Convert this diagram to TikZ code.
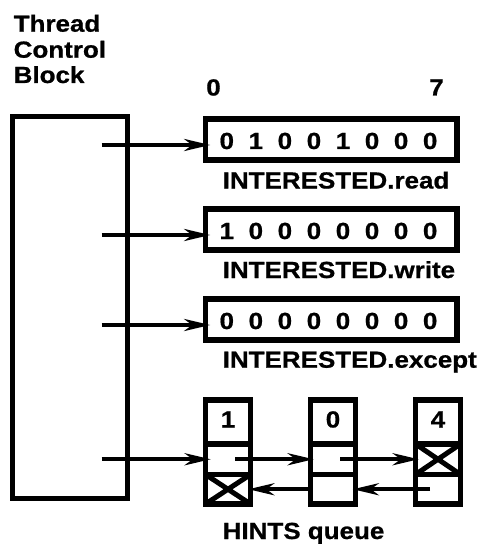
\documentclass[tikz,border=0pt]{standalone}
\usepackage{fontspec}
\newfontfamily\labfont{Liberation Sans}[FakeStretch=1.115, FakeBold=0.8]
\usetikzlibrary{arrows.meta,calc}
\tikzset{
  txt/.style={font=\labfont\bfseries\fontsize{23.3}{27}\selectfont, inner sep=0pt},
  tcbbox/.style={draw, line width=5pt, minimum width=115.5pt, minimum height=381.5pt, inner sep=0pt},
  bitbox/.style={draw, line width=5.5pt, minimum width=251.5pt, minimum height=41pt, inner sep=0pt},
  cell/.style={draw, line width=5.5pt, minimum width=45pt, inner sep=0pt},
  xcell/.style={cell, path picture={
      \draw[line width=5pt] (path picture bounding box.south west) -- (path picture bounding box.north east)
                            (path picture bounding box.north west) -- (path picture bounding box.south east);}},
  arr/.style={line width=4pt, -{Stealth[length=26pt,width=12pt,inset=8pt]}},
}
\begin{document}
\begin{tikzpicture}[x=1pt,y=-1pt]
\useasboundingbox (0,0) rectangle (481,548);

% Thread Control Block
\node[txt, anchor=base west] (l1) at (13.5,31.7) {Thread};
\node[txt, anchor=base west] (l2) at (13.5,57.7) {Control};
\node[txt, anchor=base west] (l3) at (13.5,83) {Block};
\node[tcbbox] (tcb) at (69.75,307.25) {};

% bit index header
\node[txt, anchor=base] (h0) at (213.5,95.5) {0};
\node[txt, anchor=base] (h7) at (436.5,95.5) {7};

% bit vectors
\node[bitbox] (br) at (331.25,139.5) {};
\node[bitbox] (bw) at (331.25,229.5) {};
\node[bitbox] (be) at (331.25,319.5) {};
\foreach \d [count=\i from 0] in {0,1,0,0,1,0,0,0}
  \node[txt, anchor=base] (rd\i) at (226.8+29.05*\i,149) {\d};
\foreach \d [count=\i from 0] in {1,0,0,0,0,0,0,0}
  \node[txt, anchor=base] (wd\i) at (226.8+29.05*\i,239) {\d};
\foreach \d [count=\i from 0] in {0,0,0,0,0,0,0,0}
  \node[txt, anchor=base] (ed\i) at (226.8+29.05*\i,329) {\d};
\node[txt, anchor=base west] (lr) at (222.5,188.5) {INTERESTED.read};
\node[txt, anchor=base west] (lw) at (222.5,278) {INTERESTED.write};
\node[txt, anchor=base west] (le) at (222.5,367.7) {INTERESTED.except};

% HINTS queue cells
\foreach \n/\x/\v in {1/228/1, 2/333/0, 3/438/4} {
  \node[cell, minimum height=44pt] (q\n a) at (\x,422) {};
  \node[txt, anchor=base] (v\n) at (\x,427.5) {\v};
}
\node[cell, minimum height=30.5pt] (q1b) at (228,459.25) {};
\node[cell, minimum height=30.5pt] (q2b) at (333,459.25) {};
\node[xcell, minimum height=30.5pt] (q3b) at (438,459.25) {};
\node[xcell, minimum height=29.5pt] (q1c) at (228,489.25) {};
\node[cell, minimum height=29.5pt] (q2c) at (333,489.25) {};
\node[cell, minimum height=29.5pt] (q3c) at (438,489.25) {};
\node[txt, anchor=base west] (lq) at (222.5,539) {HINTS queue};

% pointers from the TCB
\coordinate (s1) at (101.5,145);
\coordinate (s2) at (101.5,235);
\coordinate (s3) at (101.5,325);
\coordinate (s4) at (101.5,459.25);
\draw[arr] (s1) -- ($(br.west |- s1)+(7.5,0)$);
\draw[arr] (s2) -- ($(bw.west |- s2)+(7.5,0)$);
\draw[arr] (s3) -- ($(be.west |- s3)+(7.5,0)$);
\draw[arr] (s4) -- ($(q1b.west)+(8,0)$);

% queue links
\draw[arr] ($(q1b.center)+(7,0)$) -- ($(q2b.west)+(6,0)$);
\draw[arr] ($(q2b.center)+(7,0)$) -- ($(q3b.west)+(6,0)$);
\draw[arr] ($(q3c.center)+(-8,0)$) -- ($(q2c.east)+(-5.5,0)$);
\draw[arr] (q2c.west) -- ($(q1c.east)+(-5,0)$);
\end{tikzpicture}
\end{document}
